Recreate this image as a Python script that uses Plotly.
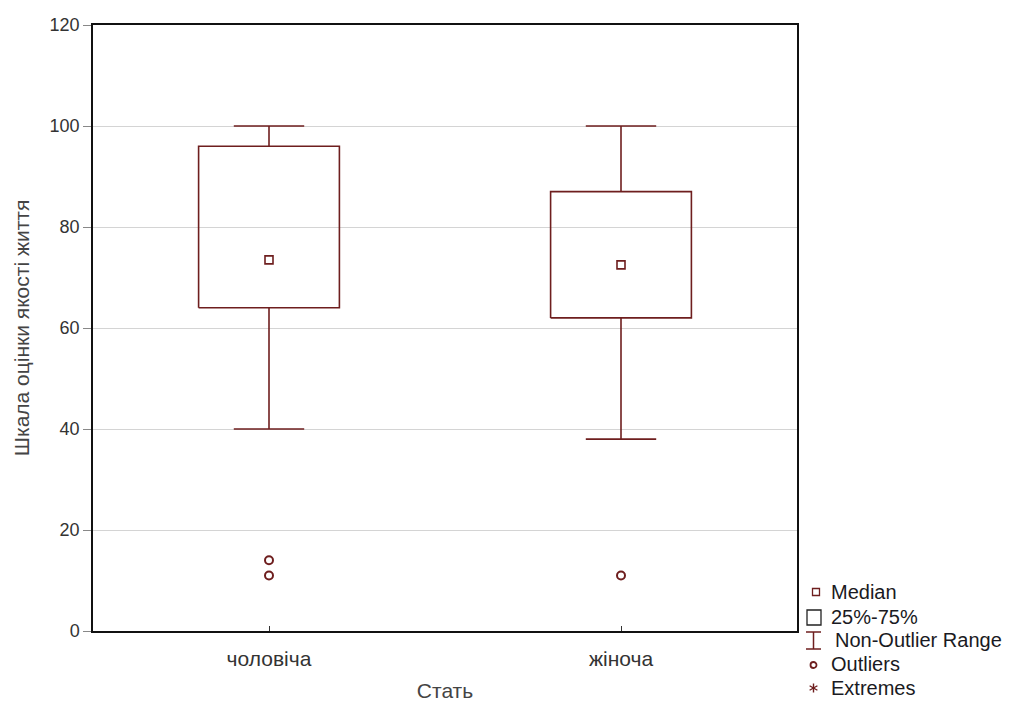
import plotly.graph_objects as go

# Summary statistics per group
categories = ["чоловіча", "жіноча"]
q1 = [64, 62]
q3 = [96, 87]
median = [73.5, 72.5]
whisker_low = [40, 38]
whisker_high = [100, 100]
outliers = [[14, 11], [11]]

y_ticks = [0, 20, 40, 60, 80, 100, 120]

COLOR = "#6e1e1e"
FONT = "Arial, Liberation Sans, sans-serif"
BOX_HALF = 0.2
CAP_HALF = 0.1

W, H = 1011, 702
ML, MR, MT, MB = 93, 214, 25, 71

fig = go.Figure()

for i, cat in enumerate(categories):
    # whiskers with caps
    fig.add_trace(go.Scatter(
        x=[i - CAP_HALF, i + CAP_HALF, None, i, i, None, i, i, None, i - CAP_HALF, i + CAP_HALF],
        y=[whisker_high[i], whisker_high[i], None, whisker_high[i], q3[i], None,
           q1[i], whisker_low[i], None, whisker_low[i], whisker_low[i]],
        mode="lines", line=dict(color=COLOR, width=1.6), hoverinfo="skip", showlegend=False))
    # 25%-75% box
    fig.add_trace(go.Scatter(
        x=[i - BOX_HALF, i + BOX_HALF, i + BOX_HALF, i - BOX_HALF, i - BOX_HALF],
        y=[q1[i], q1[i], q3[i], q3[i], q1[i]],
        mode="lines", line=dict(color=COLOR, width=1.6), hoverinfo="skip", showlegend=False))
    # median marker
    fig.add_trace(go.Scatter(
        x=[i], y=[median[i]], mode="markers",
        marker=dict(symbol="square-open", size=8, color=COLOR, line=dict(width=1.6)),
        showlegend=False))
    # outliers
    fig.add_trace(go.Scatter(
        x=[i] * len(outliers[i]), y=outliers[i], mode="markers",
        marker=dict(symbol="circle-open", size=8, color=COLOR, line=dict(width=2)),
        showlegend=False))


# helpers for placing the key below-right of the plot, in pixels
def px(x):
    return (x - ML) / (W - ML - MR)


def py(y):
    return (H - MB - y) / (H - MT - MB)


shapes = []
line = dict(color=COLOR, width=1.5)
# Median
shapes.append(dict(type="rect", xref="paper", yref="paper",
                   x0=px(812.5), x1=px(819.5), y0=py(588.5), y1=py(595.5), line=dict(color=COLOR, width=1.3)))
# 25%-75%
shapes.append(dict(type="rect", xref="paper", yref="paper",
                   x0=px(807), x1=px(821), y0=py(610), y1=py(625), line=dict(color="#222222", width=1.3)))
# Non-Outlier Range
for (x0, y0, x1, y1) in [(806, 632, 821, 632), (813.5, 632, 813.5, 649), (806, 649, 821, 649)]:
    shapes.append(dict(type="line", xref="paper", yref="paper",
                       x0=px(x0), x1=px(x1), y0=py(y0), y1=py(y1), line=line))
# Outliers
shapes.append(dict(type="circle", xref="paper", yref="paper",
                   x0=px(810.5), x1=px(816.5), y0=py(662), y1=py(668), line=dict(color=COLOR, width=1.8)))
# Extremes (asterisk)
cx, cy, r = 813.5, 688, 4.5
for (dx, dy) in [(0, 1), (0.87, 0.5), (0.87, -0.5)]:
    shapes.append(dict(type="line", xref="paper", yref="paper",
                       x0=px(cx - dx * r), x1=px(cx + dx * r), y0=py(cy - dy * r), y1=py(cy + dy * r),
                       line=dict(color=COLOR, width=1.4)))

legend_items = ["Median", "25%-75%", "Non-Outlier Range", "Outliers", "Extremes"]
legend_x = [829, 829, 833, 829, 829]
legend_y = [592, 617, 640, 664, 688]
annotations = [dict(x=px(xx), y=py(yy), xref="paper", yref="paper", text=t, showarrow=False,
                    xanchor="left", yanchor="middle", font=dict(family=FONT, size=20, color="#1a1a22"))
               for t, xx, yy in zip(legend_items, legend_x, legend_y)]

fig.update_layout(
    width=W, height=H,
    margin=dict(l=ML, r=MR, t=MT, b=MB),
    paper_bgcolor="white", plot_bgcolor="white",
    font=dict(family=FONT, size=16, color="#333333"),
    shapes=shapes, annotations=annotations,
    showlegend=False,
    xaxis=dict(
        range=[-0.5, 1.5], tickvals=list(range(len(categories))), ticktext=categories,
        ticks="inside", ticklen=5, tickcolor="#333333",
        ticklabelstandoff=8, automargin=False,
        showgrid=False, zeroline=False,
        showline=True, mirror=True, linecolor="#111111", linewidth=1.5,
        title=dict(text="Стать", font=dict(size=21, color="#444444"), standoff=14),
        tickfont=dict(size=21, color="#333333"),
    ),
    yaxis=dict(
        range=[0, 120], tickvals=y_ticks, automargin=False,
        ticks="outside", ticklen=8, tickcolor="#888888",
        showgrid=True, gridcolor="#d4d4d4", gridwidth=1, zeroline=False,
        showline=True, mirror=True, linecolor="#111111", linewidth=1.5,
        title=dict(text="Шкала оцінки якості життя", font=dict(size=21, color="#444444"), standoff=14),
        tickfont=dict(size=18, color="#333333"),
    ),
)

fig.write_html("out.html")
